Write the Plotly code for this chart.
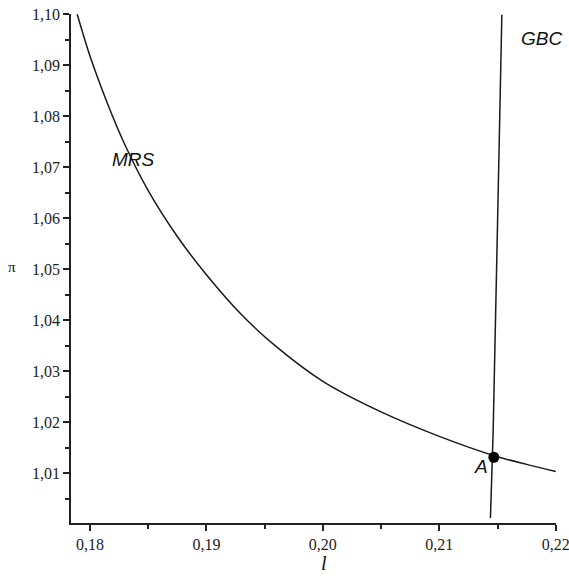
import plotly.graph_objects as go

# MRS curve (l, pi)
mrs_l = [0.1789, 0.1800, 0.1815, 0.1830, 0.1850, 0.1875, 0.1900, 0.1930,
         0.1960, 0.2000, 0.2050, 0.2100, 0.2150, 0.2175, 0.2200]
mrs_pi = [1.1000, 1.0918, 1.0825, 1.0744, 1.0654, 1.0564, 1.0489, 1.0411,
          1.0348, 1.0280, 1.0220, 1.0172, 1.0132, 1.0117, 1.0103]

# GBC curve (l, pi)
gbc_l = [0.21439, 0.21462, 0.21500, 0.21537]
gbc_pi = [1.0012, 1.0179, 1.0590, 1.0999]

# Equilibrium point A
a_l = [0.21468]
a_pi = [1.0131]

x_ticks = [0.18, 0.19, 0.20, 0.21, 0.22]
y_ticks = [1.01, 1.02, 1.03, 1.04, 1.05, 1.06, 1.07, 1.08, 1.09, 1.10]

fig = go.Figure()
fig.add_trace(go.Scatter(x=mrs_l, y=mrs_pi, mode="lines",
                         line=dict(color="#1a1a1a", width=1.5, shape="spline", smoothing=0.8),
                         showlegend=False, hoverinfo="skip"))
fig.add_trace(go.Scatter(x=gbc_l, y=gbc_pi, mode="lines",
                         line=dict(color="#1a1a1a", width=1.5),
                         showlegend=False, hoverinfo="skip"))
fig.add_trace(go.Scatter(x=a_l, y=a_pi, mode="markers",
                         marker=dict(color="black", size=11),
                         showlegend=False, hoverinfo="skip"))

tickfont = dict(family="Liberation Serif", size=16, color="#222")
fig.update_xaxes(range=[0.17837, 0.22002], tickvals=x_ticks, tickformat=".2f",
                 automargin=False, ticklabeloverflow="allow",
                 showgrid=False, zeroline=False, showline=True, linecolor="#222",
                 linewidth=1.5, ticks="outside", ticklen=6, tickwidth=1.5, tickcolor="#222",
                 tickfont=tickfont,
                 minor=dict(dtick=0.005, tick0=0.18, ticks="outside", ticklen=4,
                            tickwidth=1.5, tickcolor="#222", showgrid=False))
fig.update_yaxes(range=[1.0002, 1.10005], tickvals=y_ticks, tickformat=".2f",
                 automargin=False, ticklabeloverflow="allow",
                 showgrid=False, zeroline=False, showline=True, linecolor="#222",
                 linewidth=1.5, ticks="outside", ticklen=6, tickwidth=1.5, tickcolor="#222",
                 tickfont=tickfont,
                 minor=dict(dtick=0.005, tick0=1.0, ticks="outside", ticklen=4,
                            tickwidth=1.5, tickcolor="#222", showgrid=False))

lab = dict(family="Liberation Sans", size=19, color="#111")
fig.add_annotation(x=0.1837, y=1.0716, text="<i>MRS</i>", showarrow=False, font=lab)
fig.add_annotation(x=0.2188, y=1.0953, text="<i>GBC</i>", showarrow=False, font=lab)
fig.add_annotation(x=0.2136, y=1.0112, text="<i>A</i>", showarrow=False, font=lab)
fig.add_annotation(xref="paper", yref="paper", x=(324 - 71) / 485, y=-(563 - 523) / 509,
                   xanchor="center", yanchor="middle",
                   text="<i>l</i>", showarrow=False,
                   font=dict(family="Liberation Serif", size=20, color="#111"))
fig.add_annotation(xref="paper", yref="paper", x=-(71 - 12) / 485, y=(523 - 267) / 509,
                   xanchor="center", yanchor="middle",
                   text="π", showarrow=False,
                   font=dict(family="Liberation Serif", size=15, color="#111"))

fig.update_layout(width=569, height=579, separators=",.",
                  margin=dict(l=71, r=13, t=14, b=56, autoexpand=False),
                  plot_bgcolor="white", paper_bgcolor="white")
fig.write_html("out.html", config={"displayModeBar": False},
               post_script="document.body.style.margin='0px';")
